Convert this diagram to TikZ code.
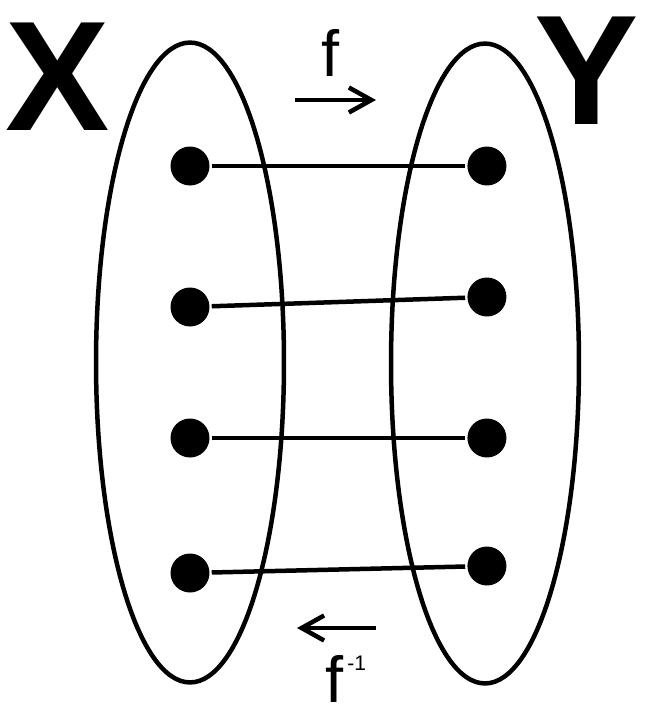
\documentclass[tikz,border=0pt]{standalone}
\usepackage{fontspec}
\setmainfont{Liberation Sans}
\usetikzlibrary{positioning,shapes.geometric,arrows.meta}

\begin{document}
\begin{tikzpicture}[x=0.02cm,y=-0.02cm,line width=0.09cm,node distance=5.94cm,on grid,
    dot/.style={circle,fill,inner sep=0pt,minimum size=0.78cm},
    set/.style={ellipse,draw,inner sep=0pt,minimum width=3.76cm,minimum height=12.8cm},
    setname/.style={font=\fontsize{89}{89}\selectfont\bfseries,inner sep=0pt,anchor=base},
    fname/.style={font=\fontsize{37}{37}\selectfont,inner sep=0pt,anchor=base},
    map/.style={-{Straight Barb[length=0.45cm,width=0.5cm]}}]
    \useasboundingbox (0,0) rectangle (650,714);
    \node[set] (X) at (190,362.5) {};
    \node[set] (Y) at (485,363.5) {};
    \node[setname] (X_name) at (58,130) {X};
    \node[setname] (Y_name) at (587,124) {Y};
    \node[dot] (x_1) at (190,166) {};
    \node[dot] (x_2) at (190,307) {};
    \node[dot] (x_3) at (190,438) {};
    \node[dot] (x_4) at (190,573) {};
    \node[dot] (y_1) [right=of x_1] {};
    \node[dot] (y_2) [right=of x_2,yshift=0.2cm] {};
    \node[dot] (y_3) [right=of x_3] {};
    \node[dot] (y_4) [right=of x_4,yshift=0.14cm] {};
    \path
    (x_1) edge (y_1)
    (x_2) edge (y_2)
    (x_3) edge (y_3)
    (x_4) edge (y_4);
    \node[fname] (f) at (331,76) {f};
    \coordinate (f_a) at (295,100);
    \coordinate (f_b) at (376,100);
    \draw[map] (f_a) -- (f_b);
    \node[fname] (f_inv) at (346,702) {f\kern2pt\raisebox{18pt}{\fontsize{12}{12}\selectfont -1}};
    \coordinate (g_a) at (376,628);
    \coordinate (g_b) at (297,628);
    \draw[map] (g_a) -- (g_b);
\end{tikzpicture}
\end{document}
